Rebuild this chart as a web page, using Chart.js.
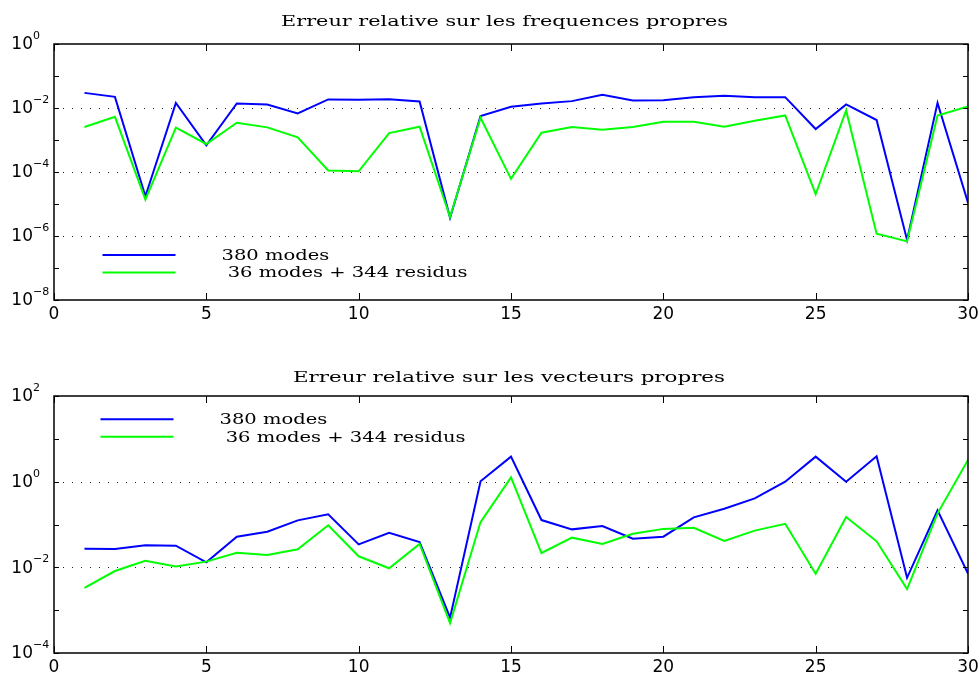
<!DOCTYPE html>
<html>
<head>
<meta charset="utf-8">
<script src="https://cdn.jsdelivr.net/npm/chart.js@4.4.0/dist/chart.umd.min.js"></script>
<style>
  html, body { margin: 0; padding: 0; background: #ffffff; }
  #wrap { position: relative; width: 980px; height: 675px; }
  canvas { position: absolute; left: 0; }
</style>
</head>
<body>
<div id="wrap">
  <canvas id="freq" width="980" height="340" style="top:0px"></canvas>
  <canvas id="vect" width="980" height="335" style="top:340px"></canvas>
</div>
<script>
// Mode numbers on the x axis
const modes = [1, 2, 3, 4, 5, 6, 7, 8, 9, 10, 11, 12, 13, 14, 15,
               16, 17, 18, 19, 20, 21, 22, 23, 24, 25, 26, 27, 28, 29, 30];
const xTickValues = [0, 5, 10, 15, 20, 25, 30];

// Decade exponents labelled on each log axis (first = top, last = bottom)
const freqExponents = [0, -2, -4, -6, -8];
const vectExponents = [2, 0, -2, -4];

const seriesNames = ['380 modes', ' 36 modes + 344 residus'];
const freqTitle = 'Erreur relative sur les frequences propres';
const vectTitle = 'Erreur relative sur les vecteurs propres';

// Relative error on the eigenfrequencies
const freqFull = [2.97e-2, 2.23e-2, 1.75e-5, 1.45e-2, 6.8e-4, 1.38e-2, 1.29e-2, 6.8e-3, 1.85e-2, 1.80e-2,
                  1.89e-2, 1.60e-2, 3.7e-6, 5.6e-3, 1.09e-2, 1.38e-2, 1.64e-2, 2.58e-2, 1.72e-2, 1.76e-2,
                  2.18e-2, 2.40e-2, 2.18e-2, 2.18e-2, 2.2e-3, 1.29e-2, 4.2e-3, 7.5e-7, 1.45e-2, 1.09e-5];
const freqResid = [2.54e-3, 5.3e-3, 1.38e-5, 2.42e-3, 7.5e-4, 3.46e-3, 2.48e-3, 1.21e-3, 1.11e-4, 1.05e-4,
                   1.65e-3, 2.59e-3, 3.9e-6, 4.95e-3, 6.1e-5, 1.69e-3, 2.54e-3, 2.09e-3, 2.54e-3, 3.72e-3,
                   3.72e-3, 2.59e-3, 3.99e-3, 5.85e-3, 2.02e-5, 8.4e-3, 1.18e-6, 6.8e-7, 5.85e-3, 1.12e-2];

// Relative error on the eigenvectors
const vectFull = [2.73e-2, 2.68e-2, 3.27e-2, 3.21e-2, 1.31e-2, 5.2e-2, 6.8e-2, 0.125, 0.173, 3.44e-2,
                  6.4e-2, 3.90e-2, 6.7e-4, 1.02, 3.84, 0.127, 7.7e-2, 9.2e-2, 4.67e-2, 5.2e-2,
                  0.147, 0.234, 0.408, 1.0, 3.84, 1.0, 3.90, 5.7e-3, 0.214, 7.2e-3];
const vectResid = [3.30e-3, 8.2e-3, 1.43e-2, 1.05e-2, 1.36e-2, 2.20e-2, 1.94e-2, 2.63e-2, 9.6e-2, 1.81e-2,
                   9.5e-3, 3.51e-2, 5.0e-4, 0.114, 1.26, 2.16e-2, 4.93e-2, 3.51e-2, 6.1e-2, 7.9e-2,
                   8.4e-2, 4.12e-2, 7.2e-2, 0.104, 7.1e-3, 0.150, 4.05e-2, 3.12e-3, 0.182, 3.21];

const BLUE = '#0000ff';
const GREEN = '#00ff00';
const TICK_FONT = '"DejaVu Sans", sans-serif';
const TEXT_FONT = '"DejaVu Serif", serif';

function toPoints(values) {
  return modes.map((m, i) => ({ x: m, y: values[i] }));
}

function supMinus(n) {
  return n < 0 ? '\u2212' + Math.abs(n) : String(n);
}

// Wide serif text: the string is stretched horizontally to a given width
function wideText(ctx, text, x, y, width, align) {
  const w = ctx.measureText(text).width;
  const sx = width / w;
  ctx.save();
  ctx.translate(x, y);
  ctx.scale(sx, 1);
  ctx.textAlign = align;
  ctx.fillText(text, 0, 0);
  ctx.restore();
  return sx;
}

// Box frame, inward ticks, dotted decade grid, tick labels, title and legend
const matlabAxes = {
  id: 'matlabAxes',
  beforeDatasetsDraw(chart, args, opts) {
    const { ctx, chartArea: a, scales: { y } } = chart;
    ctx.save();
    ctx.strokeStyle = '#222';
    ctx.lineWidth = 1;
    ctx.setLineDash([1, 8]);
    opts.exponents.slice(1, -1).forEach(e => {
      const py = Math.round(y.getPixelForValue(Math.pow(10, e))) + 0.5;
      ctx.beginPath();
      ctx.moveTo(a.left, py);
      ctx.lineTo(a.right, py);
      ctx.stroke();
    });
    ctx.restore();
  },
  afterDatasetsDraw(chart, args, opts) {
    const { ctx, chartArea: a, scales: { x, y } } = chart;
    ctx.save();
    ctx.setLineDash([]);
    ctx.strokeStyle = '#000';
    ctx.lineWidth = 1;

    // y ticks at every decade, both sides
    const eTop = opts.exponents[0];
    const eBot = opts.exponents[opts.exponents.length - 1];
    for (let e = eBot; e <= eTop; e++) {
      const py = Math.round(y.getPixelForValue(Math.pow(10, e))) + 0.5;
      ctx.beginPath();
      ctx.moveTo(a.left, py); ctx.lineTo(a.left + 5, py);
      ctx.moveTo(a.right, py); ctx.lineTo(a.right - 5, py);
      ctx.stroke();
    }
    // x ticks, top and bottom
    xTickValues.forEach(v => {
      const px = Math.round(x.getPixelForValue(v)) + 0.5;
      ctx.beginPath();
      ctx.moveTo(px, a.bottom); ctx.lineTo(px, a.bottom - 7);
      ctx.moveTo(px, a.top); ctx.lineTo(px, a.top + 7);
      ctx.stroke();
    });
    // frame
    ctx.lineWidth = 1.5;
    ctx.strokeRect(a.left, a.top, a.right - a.left, a.bottom - a.top);

    // x tick labels
    ctx.fillStyle = '#000';
    ctx.font = '17px ' + TICK_FONT;
    ctx.textAlign = 'center';
    ctx.textBaseline = 'middle';
    xTickValues.forEach(v => {
      ctx.fillText(String(v), x.getPixelForValue(v), a.bottom + 15);
    });
    // y tick labels: 10 with superscript exponent
    opts.exponents.forEach(e => {
      const py = y.getPixelForValue(Math.pow(10, e));
      ctx.font = '17px ' + TICK_FONT;
      ctx.textAlign = 'right';
      ctx.fillText('10', a.left - 21, py + 1);
      ctx.font = '11px ' + TICK_FONT;
      ctx.textAlign = 'left';
      ctx.fillText(supMinus(e), a.left - 21, py - 8);
    });

    // title
    ctx.font = '14px ' + TEXT_FONT;
    ctx.textBaseline = 'alphabetic';
    wideText(ctx, opts.title, opts.titleCenter, a.top - opts.titleGap, opts.titleWidth, 'center');

    // legend
    const lg = opts.legend;
    ctx.font = '15px ' + TEXT_FONT;
    const longest = chart.data.datasets.reduce((m, ds) => Math.max(m, ctx.measureText(ds.label).width), 0);
    const sx = lg.textWidth / longest;
    chart.data.datasets.forEach((ds, i) => {
      const ly = a.top + lg.top + i * 17.5;
      ctx.strokeStyle = ds.borderColor;
      ctx.lineWidth = 2;
      ctx.beginPath();
      ctx.moveTo(a.left + lg.left, ly);
      ctx.lineTo(a.left + lg.left + 73, ly);
      ctx.stroke();
      ctx.fillStyle = '#000';
      ctx.textBaseline = 'middle';
      ctx.save();
      ctx.translate(a.left + lg.left + 119, ly + 1);
      ctx.scale(sx, 1);
      ctx.textAlign = 'left';
      ctx.fillText(ds.label, 0, 0);
      ctx.restore();
    });
    ctx.restore();
  }
};

function makeChart(id, full, resid, exponents, title, padding, legend, titleOpts) {
  return new Chart(document.getElementById(id), {
    type: 'line',
    data: {
      datasets: [
        { label: seriesNames[0], data: toPoints(full), borderColor: BLUE, borderWidth: 2,
          pointRadius: 0, tension: 0, fill: false, order: 1 },
        { label: seriesNames[1], data: toPoints(resid), borderColor: GREEN, borderWidth: 2,
          pointRadius: 0, tension: 0, fill: false, order: 0 }
      ]
    },
    options: {
      responsive: false,
      animation: false,
      devicePixelRatio: 1,
      layout: { padding },
      scales: {
        x: { type: 'linear', min: 0, max: 30, display: false },
        y: { type: 'logarithmic', min: Math.pow(10, exponents[exponents.length - 1]),
             max: Math.pow(10, exponents[0]), display: false }
      },
      plugins: {
        legend: { display: false },
        title: { display: false },
        tooltip: { enabled: false },
        matlabAxes: Object.assign({ exponents, title, legend }, titleOpts)
      }
    },
    plugins: [matlabAxes]
  });
}

makeChart('freq', freqFull, freqResid, freqExponents, freqTitle,
          { left: 54, right: 12, top: 44, bottom: 40 },
          { left: 48.5, top: 211, textWidth: 246 },
          { titleGap: 18, titleCenter: 504.5, titleWidth: 447 });
makeChart('vect', vectFull, vectResid, vectExponents, vectTitle,
          { left: 54, right: 12, top: 56, bottom: 22 },
          { left: 46.5, top: 23.3, textWidth: 246 },
          { titleGap: 14.5, titleCenter: 509, titleWidth: 432 });
</script>
</body>
</html>
